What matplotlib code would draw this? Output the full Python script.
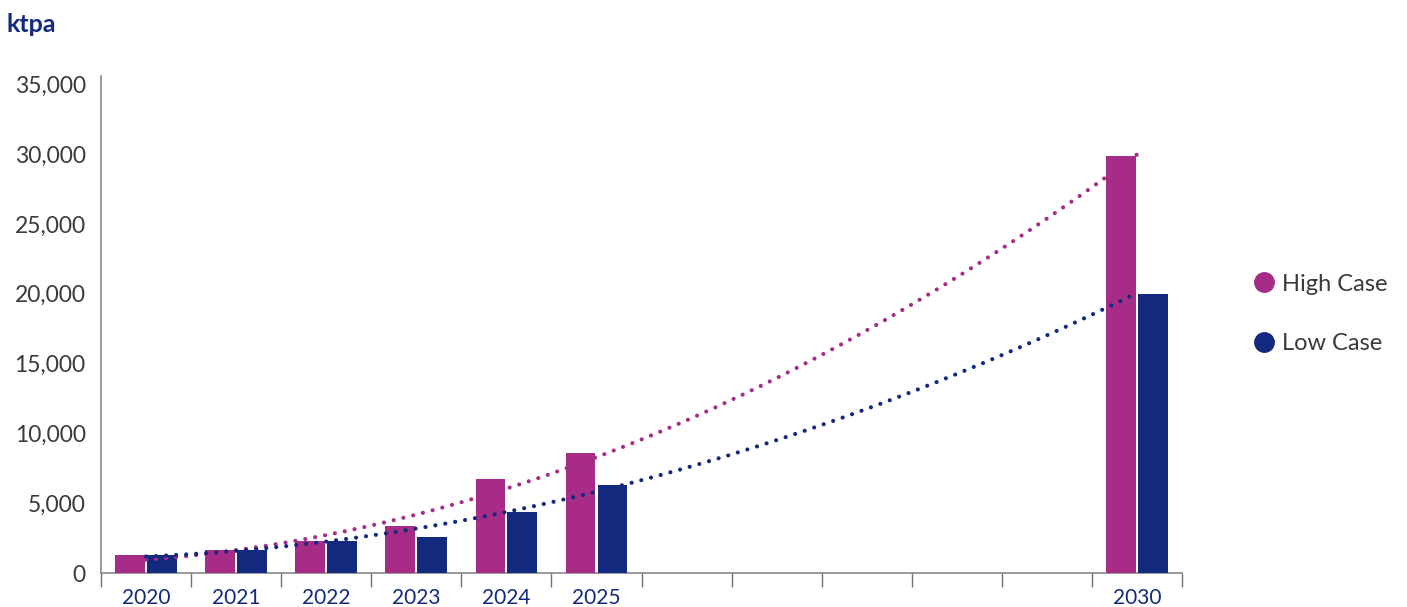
import numpy as np
import matplotlib.pyplot as plt
from matplotlib.lines import Line2D

# data (ktpa)
years = ["2020", "2021", "2022", "2023", "2024", "2025", "", "", "", "", "", "2030"]
bar_slots = [0, 1, 2, 3, 4, 5, 11]
high_case = [1300, 1650, 2300, 3350, 6700, 8600, 29900]
low_case = [1300, 1650, 2300, 2550, 4350, 6300, 20000]

MAGENTA = "#A62C88"
NAVY = "#13297D"
GREY_TXT = "#3a3a3a"

plt.rcParams["font.family"] = ["Lato", "DejaVu Sans"]

fig = plt.figure(figsize=(14.07, 6.07), dpi=100)
ax = fig.add_axes([101 / 1407, 1 - 573 / 607, (1182 - 101) / 1407, (573 - 76) / 607])

x = np.array(bar_slots, dtype=float)
w = 0.33
gap = 0.012
ax.bar(x - w / 2 - gap, high_case, width=w, color=MAGENTA, zorder=3)
ax.bar(x + w / 2 + gap, low_case, width=w, color=NAVY, zorder=3)

# polynomial (order 2) trendlines, drawn over the bars
xs = np.linspace(0, 11, 300)
for vals, col in [(high_case, MAGENTA), (low_case, NAVY)]:
    coef = np.polyfit(x, vals, 2)
    ax.plot(xs, np.polyval(coef, xs), color=col, lw=3.0,
            linestyle=(0, (0.01, 2.4)), dash_capstyle="round", zorder=4)

ax.set_xlim(-0.5, 11.5)
ax.set_ylim(0, 35600)
ax.set_yticks(np.arange(0, 35001, 5000))
ax.set_yticklabels([f"{v:,}" for v in range(0, 35001, 5000)])
ax.tick_params(axis="y", length=0, pad=11, labelsize=16.5, labelcolor=GREY_TXT)

ax.set_xticks(np.arange(-0.5, 11.6, 1))
ax.set_xticklabels([])
ax.set_xticks(np.arange(12), minor=True)
ax.set_xticklabels(years, minor=True)
ax.tick_params(axis="x", which="major", length=10, width=1, color="#707070", direction="out")
ax.tick_params(axis="x", which="minor", length=0, pad=11, labelsize=15, labelcolor=NAVY)

for s in ["top", "right"]:
    ax.spines[s].set_visible(False)
ax.spines["left"].set_color("#888888")
ax.spines["bottom"].set_color("#888888")
ax.spines["left"].set_linewidth(1.2)
ax.spines["bottom"].set_linewidth(1.2)

fig.text(7 / 1407, 1 - 32 / 607, "ktpa", fontsize=18, fontweight="bold", color=NAVY,
         va="baseline", ha="left")

handles = [
    Line2D([], [], marker="o", linestyle="none", markersize=14, color=MAGENTA),
    Line2D([], [], marker="o", linestyle="none", markersize=14, color=NAVY),
]
fig.legend(handles, ["High Case", "Low Case"], loc="center left",
           bbox_to_anchor=(1231 / 1407, 1 - 314 / 607), frameon=False,
           fontsize=17, labelcolor=GREY_TXT, handletextpad=0.25,
           labelspacing=1.65, handlelength=1.0)

fig.savefig("out.png", dpi=100)
